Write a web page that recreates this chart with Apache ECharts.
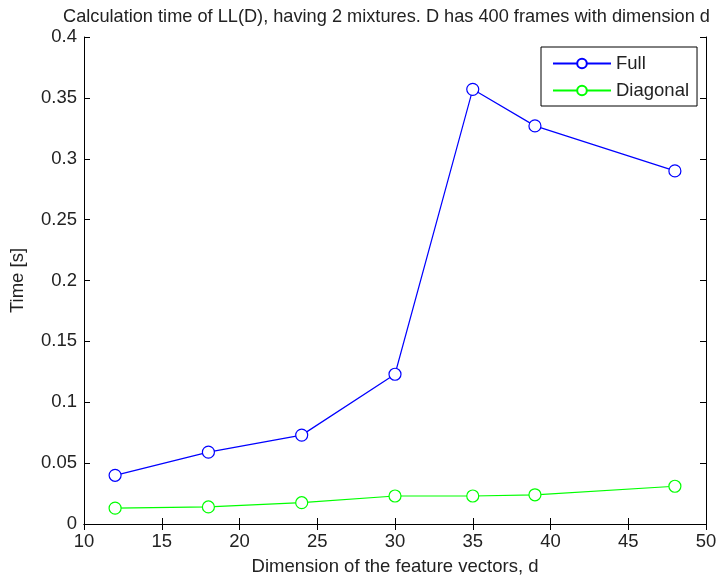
<!DOCTYPE html>
<html>
<head>
<meta charset="utf-8">
<script src="https://cdn.jsdelivr.net/npm/echarts@6/dist/echarts.min.js"></script>
<style>
  html, body { margin: 0; padding: 0; background: #fff; }
  #chart { width: 725px; height: 581px; }
</style>
</head>
<body>
<div id="chart"></div>
<script>
// Feature vector dimension d
const dims = [12, 18, 24, 30, 35, 39, 48];
// Calculation time [s] for full and diagonal covariance
const fullTimes = [0.040, 0.059, 0.073, 0.123, 0.357, 0.327, 0.290];
const diagTimes = [0.013, 0.014, 0.0175, 0.023, 0.023, 0.024, 0.031];

const FONT = '"Liberation Sans", Arial, sans-serif';
const FS = 18.5;

const chart = echarts.init(document.getElementById('chart'));

const baseAxis = {
  axisLine: { show: true, lineStyle: { color: '#000', width: 1 } },
  axisTick: { show: true, inside: true, length: 6, lineStyle: { color: '#000' } },
  splitLine: { show: false },
  axisLabel: { color: '#222', fontFamily: FONT, fontSize: FS }
};

function pairs(ys) { return dims.map((d, i) => [d, ys[i]]); }

chart.setOption({
  backgroundColor: '#fff',
  animation: false,
  title: {
    text: 'Calculation time of LL(D), having 2 mixtures. D has 400 frames with dimension d',
    left: 58, top: 3,
    textStyle: { fontFamily: FONT, fontSize: 18.2, fontWeight: 'normal', color: '#222' }
  },
  grid: { left: 81, right: 19, top: 37, bottom: 55 },
  legend: {
    left: 541, top: 47,
    orient: 'vertical',
    backgroundColor: '#fff',
    borderColor: '#000', borderWidth: 1, borderRadius: 0,
    padding: [7, 8, 6, 11],
    itemWidth: 58, itemHeight: 12, itemGap: 8,
    textStyle: { fontFamily: FONT, fontSize: FS, color: '#222' },
    data: ['Full', 'Diagonal']
  },
  xAxis: [
    Object.assign({}, baseAxis, {
      type: 'value', min: 10, max: 50, interval: 5, position: 'bottom',
      axisLabel: Object.assign({}, baseAxis.axisLabel, { margin: 8 }),
      name: 'Dimension of the feature vectors, d', nameLocation: 'middle', nameGap: 33,
      nameTextStyle: { fontFamily: FONT, fontSize: FS, color: '#222' }
    }),
    Object.assign({}, baseAxis, {
      type: 'value', min: 10, max: 50, interval: 5, position: 'top',
      axisLabel: { show: false }
    })
  ],
  yAxis: [
    Object.assign({}, baseAxis, {
      type: 'value', min: 0, max: 0.4, interval: 0.05, position: 'left',
      axisLabel: Object.assign({}, baseAxis.axisLabel, { margin: 7 }),
      name: 'Time [s]', nameLocation: 'middle', nameGap: 57,
      nameTextStyle: { fontFamily: FONT, fontSize: FS, color: '#222' }
    }),
    Object.assign({}, baseAxis, {
      type: 'value', min: 0, max: 0.4, interval: 0.05, position: 'right',
      axisLabel: { show: false }
    })
  ],
  series: [
    {
      name: 'Full', type: 'line', data: pairs(fullTimes),
      symbol: 'circle', symbolSize: 12, showAllSymbol: true,
      lineStyle: { color: '#0000ff', width: 1.2 },
      itemStyle: { color: '#fff', borderColor: '#0000ff', borderWidth: 1.2 },
      color: '#0000ff'
    },
    {
      name: 'Diagonal', type: 'line', data: pairs(diagTimes),
      symbol: 'circle', symbolSize: 12, showAllSymbol: true,
      lineStyle: { color: '#00ff00', width: 1.2 },
      itemStyle: { color: '#fff', borderColor: '#00ff00', borderWidth: 1.2 },
      color: '#00ff00'
    }
  ]
});
</script>
</body>
</html>
